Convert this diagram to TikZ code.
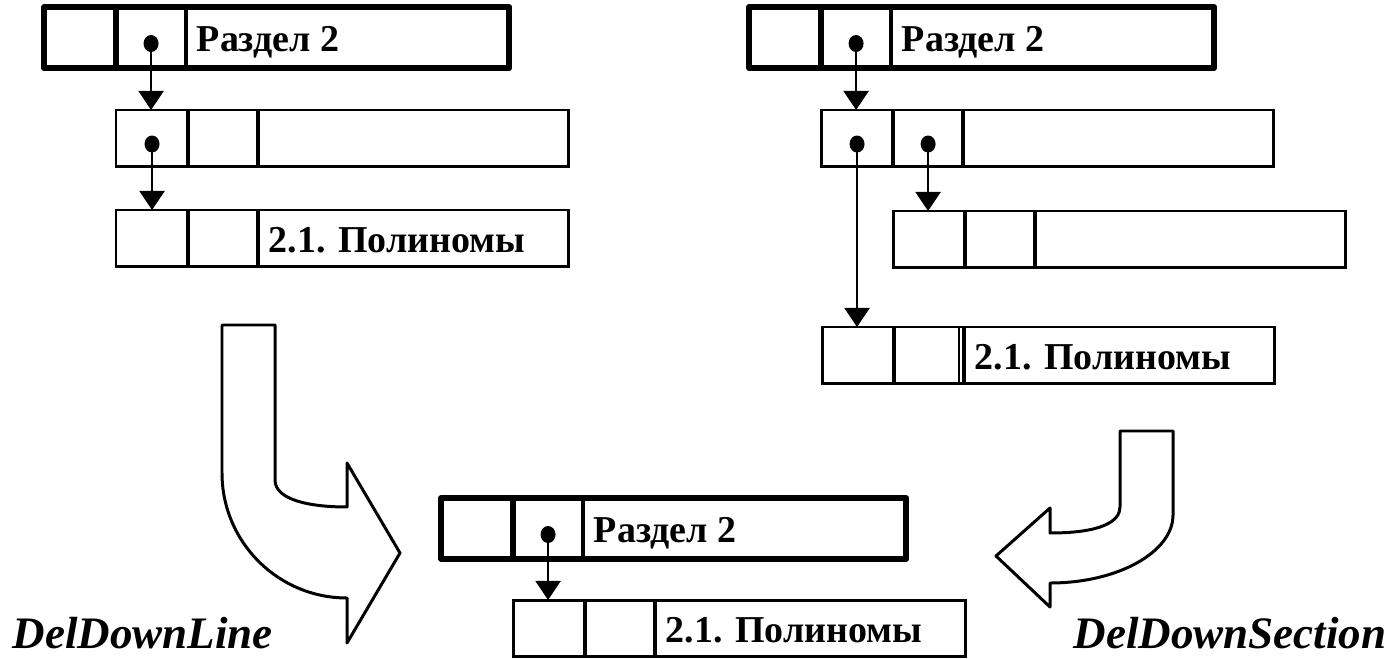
\documentclass[tikz,border=0pt]{standalone}
\usepackage{fontspec}
\setmainfont{Liberation Serif}
\usetikzlibrary{arrows.meta}

\newcommand\rec[5]{%
  \node[#1 box] (#2) at (#3,#4) {};
  \draw[#1 div] ([xshift=0.72cm]#2.north west) -- ([xshift=0.72cm]#2.south west);
  \draw[#1 div, line width=1.3pt] ([xshift=1.42cm]#2.north west) -- ([xshift=1.42cm]#2.south west);
  \coordinate (#2-1) at ([xshift=0.36cm,yshift=-0.06cm]#2.west);
  \coordinate (#2-2) at ([xshift=1.07cm,yshift=-0.06cm]#2.west);
  \node[rec text] (#2-t) at ([xshift=1.52cm,yshift=-0.14cm]#2.west) {#5};
}

\begin{document}
\begin{tikzpicture}[x=0.01cm, y=-0.01cm,
  big box/.style={draw, line width=1.6pt, line join=round, anchor=north west,
    minimum width=4.65cm, minimum height=0.61cm, inner sep=0pt, outer sep=0pt},
  small box/.style={draw, line width=0.85pt, anchor=north west,
    minimum width=4.52cm, minimum height=0.56cm, inner sep=0pt, outer sep=0pt},
  big div/.style={line width=1.6pt},
  small div/.style={line width=1pt},
  rec text/.style={anchor=base west, inner sep=0pt,
    font=\fontsize{10.8}{12}\selectfont\bfseries},
  ptr/.style={line width=0.6pt, -{Triangle[width=0.25cm, length=0.19cm]}},
  dot/.style={fill=black},
  turnarrow/.style={draw, fill=white, line width=0.85pt, line join=round},
  op/.style={anchor=base west, inner sep=0pt,
    font=\fontsize{12.8}{14}\selectfont\bfseries\itshape}]
\useasboundingbox (0,0) rectangle (1398,658);

\rec{big}{tlA}{44}{7}{Раздел 2}
\rec{small}{tlB}{116}{110}{}
\rec{small}{tlC}{116}{210}{2.1. Полиномы}
\fill[dot] (tlA-2) circle[x radius=0.075cm, y radius=0.085cm];
\fill[dot] (tlB-1) circle[x radius=0.075cm, y radius=0.085cm];
\draw[ptr] (tlA-2) -- (tlA-2 |- tlB.north);
\draw[ptr] (tlB-1) -- (tlB-1 |- tlC.north);

\rec{big}{trA}{749}{7}{Раздел 2}
\rec{small}{trB}{821}{110}{}
\rec{small}{trC}{893}{211}{}
\rec{small}{trD}{822}{327}{2.1. Полиномы}
\draw[line width=0.5pt] ([xshift=1.37cm]trD.north west) -- ([xshift=1.37cm]trD.south west);
\fill[dot] (trA-2) circle[x radius=0.075cm, y radius=0.085cm];
\fill[dot] (trB-1) circle[x radius=0.075cm, y radius=0.085cm];
\fill[dot] (trB-2) circle[x radius=0.075cm, y radius=0.085cm];
\draw[ptr] (trA-2) -- (trA-2 |- trB.north);
\draw[ptr] (trB-1) -- (trB-1 |- trD.north);
\draw[ptr] (trB-2) -- (trB-2 |- trC.north);

\rec{big}{btA}{441}{498}{Раздел 2}
\rec{small}{btB}{513}{600}{2.1. Полиномы}
\fill[dot] (btA-2) circle[x radius=0.075cm, y radius=0.085cm];
\draw[ptr] (btA-2) -- (btA-2 |- btB.north);

\draw[turnarrow] (222,325) -- (275,325) -- (275,480)
  .. controls (275,500) and (310,507) .. (347,507) -- (347,463) -- (400,553)
  -- (347,643) -- (347,598) .. controls (278,598) and (222,542) .. (222,473) -- cycle;
\draw[turnarrow] (1173,431) -- (1120,431) -- (1120,507)
  .. controls (1120,522) and (1100,533) .. (1050,533) -- (1050,508) -- (996,556)
  -- (1050,607) -- (1050,583) .. controls (1118,583) and (1173,552) .. (1173,515) -- cycle;

\node[op] (delLine) at (12,648) {DelDownLine};
\node[op] (delSection) at (1073,648) {DelDownSection};
\end{tikzpicture}
\end{document}
